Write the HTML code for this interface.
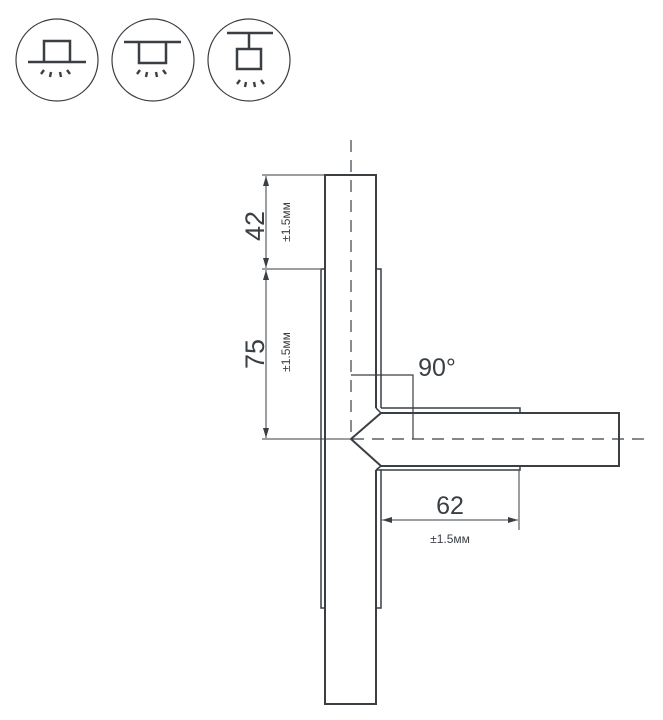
<!DOCTYPE html>
<html><head><meta charset="utf-8"><style>
html,body{margin:0;padding:0;background:#fff;}
svg{display:block;}
text{font-family:"Liberation Sans",sans-serif;fill:#3a3f44;}
</style></head><body>
<svg width="663" height="720" viewBox="0 0 663 720" xmlns="http://www.w3.org/2000/svg">
<defs>
<marker id="ar" viewBox="0 0 10 6" refX="10" refY="3" markerWidth="10" markerHeight="6" orient="auto-start-reverse" markerUnits="userSpaceOnUse"><path d="M0,0L10,3L0,6z" fill="#3a3f44"/></marker>
</defs>
<g fill="none" stroke="#3a3f44">
<circle cx="57" cy="60" r="41" stroke-width="1.2"/>
<circle cx="153" cy="60" r="41" stroke-width="1.2"/>
<circle cx="249" cy="60" r="41" stroke-width="1.2"/>
<g stroke-width="2.5">
<path d="M28,62H86M44,62V41H70V62"/>
<path d="M124,42H181M139,42V63H166V42"/>
<path d="M227,33H273M249,33V49M237,49H261V69H237Z"/>
</g>
<g stroke-width="2.4">
<path d="M41,74L44,70M50,77L51,72M61,77L60,72M70,74L67,70"/>
<path d="M137,74L140,70M146,77L147,72M157,77L156,72M166,74L163,70"/>
<path d="M237,84L240,80M245,87L246,82M255,87L254,82M264,84L261,80"/>
</g>
<g stroke-width="2">
<path d="M376,408V175H325V704H376V470"/>
<path d="M321,269H325V608H321Z" stroke-width="1.5"/>
<path d="M376,269H381V408M376,470H381V608H376" stroke-width="1.5"/>
<path d="M381,408H520V413M381,470H520V466"  stroke-width="1.5"/>
<path d="M381,413H619V466H381L351,439Z"/>
<path d="M376,408L381,413M376,470L381,466" stroke-width="1.5"/>
</g>
<path d="M351,140V439" stroke-width="1.2" stroke-dasharray="12,8"/>
<path d="M352,439H650" stroke-width="1.2" stroke-dasharray="12,8"/>
<path d="M351,375H413V439" stroke-width="1.2"/>
<g stroke-width="1">
<path d="M262,175H325M262,269H320M262,439H350"/>
<path d="M266,176V268" marker-start="url(#ar)" marker-end="url(#ar)"/>
<path d="M266,270V438" marker-start="url(#ar)" marker-end="url(#ar)"/>
<path d="M519,470V530"/>
<path d="M382,520H518" marker-start="url(#ar)" marker-end="url(#ar)"/>
</g>
</g>
<text x="0" y="0" font-size="27" transform="translate(264,226) rotate(-90)" text-anchor="middle">42</text>
<text x="0" y="0" font-size="12" transform="translate(290,222) rotate(-90)" text-anchor="middle">±1.5мм</text>
<text x="0" y="0" font-size="27" transform="translate(264,354) rotate(-90)" text-anchor="middle">75</text>
<text x="0" y="0" font-size="12" transform="translate(290,352) rotate(-90)" text-anchor="middle">±1.5мм</text>
<text x="437" y="376" font-size="25" text-anchor="middle">90°</text>
<text x="450" y="514" font-size="25" text-anchor="middle">62</text>
<text x="450" y="543" font-size="12" text-anchor="middle">±1.5мм</text>
</svg>
</body></html>
